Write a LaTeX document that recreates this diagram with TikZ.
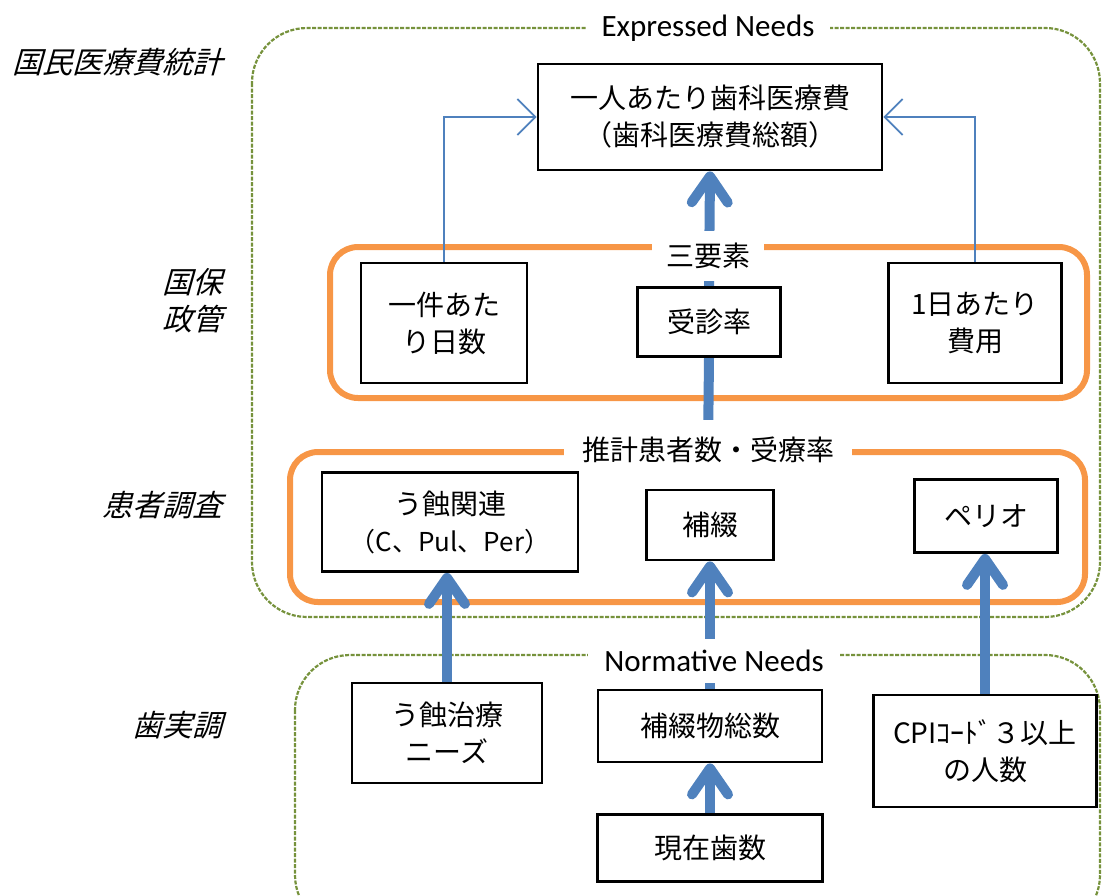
\documentclass[tikz,border=0pt]{standalone}
\usepackage{fontspec}
\newfontfamily\jp{Noto Sans CJK JP}
\newfontfamily\jpit[FakeSlant=0.28]{Noto Sans CJK JP}
\newfontfamily\calib{Carlito}
\usetikzlibrary{arrows.meta,calc}
\pgfdeclarelayer{back}
\pgfdeclarelayer{mid}
\pgfsetlayers{back,mid,main}
\definecolor{arrowblue}{RGB}{79,129,189}
\definecolor{needgreen}{RGB}{118,146,60}
\definecolor{orangeline}{RGB}{247,150,70}
\begin{document}
\begin{tikzpicture}[x=1pt,y=-1pt,
  box/.style={draw=black,line width=2.8pt,fill=white,align=center,font=\jp\fontsize{28}{37}\selectfont,inner sep=0pt},
  grouplabel/.style={fill=white,inner xsep=14pt,inner ysep=0pt,font=\jp\fontsize{28}{34}\selectfont},
  needlabel/.style={fill=white,inner xsep=16pt,inner ysep=0pt,font=\calib\fontsize{31}{34}\selectfont},
  sidelabel/.style={anchor=east,align=right,font=\jpit\fontsize{30}{37}\selectfont},
  needbox/.style={draw=needgreen,line width=2.2pt,dash pattern=on 4pt off 1.5pt,rounded corners=55pt},
  groupbox/.style={draw=orangeline,line width=6pt,rounded corners=28pt},
  fatarrow/.style={draw=arrowblue,line width=10pt,-{Straight Barb[length=26pt,width=36pt,round]}},
  fatline/.style={draw=arrowblue,line width=10pt},
  thinarrow/.style={draw=arrowblue,line width=1.8pt,-{Straight Barb[length=18pt,width=36pt]}}
]
\useasboundingbox (0,0) rectangle (1103,895);

% group frames
\begin{pgfonlayer}{back}
  \draw[needbox] (252,28) rectangle (1100,617);
  \draw[needbox] (295,655) rectangle (1100,930);
  \draw[groupbox] (330,247) rectangle (1087,398);
  \draw[groupbox] (290,452) rectangle (1085,602);
\end{pgfonlayer}

% side labels
\node[sidelabel] (lblA) at (226,62) {国民医療費統計};
\node[sidelabel] (lblB) at (226,301) {国保\\政管};
\node[sidelabel] (lblC) at (226,505) {患者調査};
\node[sidelabel] (lblD) at (226,725) {歯実調};

% frame labels
\node[needlabel, minimum height=30pt] (expressed) at (708,28) {Expressed Needs};
\node[needlabel, minimum height=44pt] (normative) at (714,661) {Normative Needs};
\node[grouplabel, minimum height=50pt] (sanyoso) at (708,256) {三要素};
\node[grouplabel, minimum height=60pt, inner xsep=18pt] (suikei) at (708,450) {推計患者数・受療率};

% boxes
\node[box, minimum width=344pt, minimum height=106pt] (top) at (710,117) {一人あたり歯科医療費\\（歯科医療費総額）};
\node[box, minimum width=166pt, minimum height=120pt] (ikken) at (444,323) {一件あた\\り日数};
\node[box, minimum width=143pt, minimum height=69pt] (jushin) at (709,322) {受診率};
\node[box, minimum width=173pt, minimum height=120pt] (ichinichi) at (975,323) {1日あたり\\費用};

\node[box, minimum width=256pt, minimum height=99pt] (ukan) at (450,522) {う蝕関連\\{\fontsize{26}{37}\selectfont（C、Pul、Per）}};
\node[box, minimum width=127pt, minimum height=70pt] (hotetsu) at (710,525) {補綴};
\node[box, minimum width=143pt, minimum height=73pt] (perio) at (986,516) {ペリオ};

\node[box, minimum width=190pt, minimum height=100pt] (uchiryo) at (447,733) {う蝕治療\\ニーズ};
\node[box, minimum width=224pt, minimum height=72pt] (hotsu) at (710,726) {補綴物総数};
\node[box, minimum width=223pt, minimum height=112pt] (cpi) at (985,751) {CPIｺｰﾄﾞ３以上\\の人数};
\node[box, minimum width=225pt, minimum height=67pt] (genzai) at (710,848) {現在歯数};

% connectors
\begin{pgfonlayer}{mid}
  \draw[fatarrow] (jushin.north) -- (top.south);
  \draw[fatline] (suikei.center) -- (jushin.south);
  \draw[fatarrow] (uchiryo.north) -- (uchiryo.north |- ukan.south);
  \draw[fatarrow] (hotsu.north) -- (hotetsu.south);
  \draw[fatarrow] (cpi.north) -- (cpi.north |- perio.south);
  \draw[fatarrow] (genzai.north) -- (hotsu.south);
  \draw[thinarrow] (ikken.north) |- (top.west);
  \draw[thinarrow] (ichinichi.north) |- (top.east);
\end{pgfonlayer}
\end{tikzpicture}
\end{document}
